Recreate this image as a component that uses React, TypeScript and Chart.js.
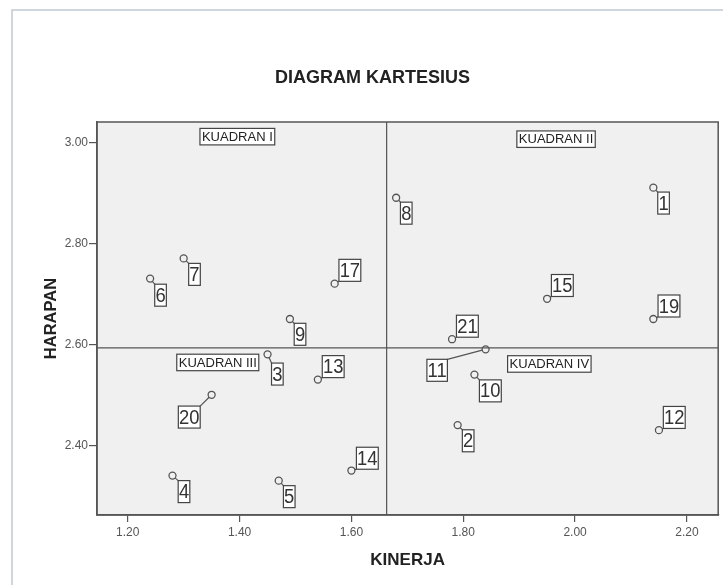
import React, { useEffect, useRef } from "react";
import { Chart, registerables } from "chart.js";

Chart.register(...registerables);

// ---- data ----
const respondentIds = ["1", "2", "3", "4", "5", "6", "7", "8", "9", "10", "11", "12", "13", "14", "15", "17", "19", "20", "21"];
const kinerja = [2.14, 1.79, 1.45, 1.28, 1.47, 1.24, 1.30, 1.68, 1.49, 1.82, 1.84, 2.15, 1.54, 1.60, 1.95, 1.57, 2.14, 1.35, 1.78];
const harapan = [2.91, 2.44, 2.58, 2.34, 2.33, 2.73, 2.77, 2.89, 2.65, 2.54, 2.59, 2.43, 2.53, 2.35, 2.69, 2.72, 2.65, 2.50, 2.61];

const meanKinerja = 1.663;
const meanHarapan = 2.593;

const xTicks = [1.2, 1.4, 1.6, 1.8, 2.0, 2.2];
const yTicks = [2.4, 2.6, 2.8, 3.0];

const quadrantNames = ["KUADRAN I", "KUADRAN II", "KUADRAN III", "KUADRAN IV"];
const quadrantX = [1.396, 1.966, 1.361, 1.954];
const quadrantY = [3.011, 3.006, 2.564, 2.561];

const chartTitle = "DIAGRAM KARTESIUS";
const xTitle = "KINERJA";
const yTitle = "HARAPAN";

// label box offsets (px, box top-left relative to point)
const labelDx = [4.4, 4.7, 4, 5.7, 4.7, 4.6, 5, 4.3, 4.3, 5, -58.7, 4.4, 4.4, 5, 4.3, 4.3, 4.7, -33.3, 4.4];
const labelDy = [4.4, 4.7, 8.7, 5, 5, 5.6, 5, 4.4, 4.3, 5.3, 10, -23.7, -24, -23.3, -24.3, -24.3, -24, 11.3, -24];

const FONT = '"Liberation Sans", Arial, sans-serif';

export default function App() {
  const ref = useRef<HTMLCanvasElement | null>(null);

  useEffect(() => {
    document.body.style.margin = "0";
    const canvas = ref.current;
    if (!canvas) return;

    const points = kinerja.map((x, i) => ({ x, y: harapan[i] }));
    const R = 3.5;

    const deco = {
      id: "deco",
      beforeDraw(chart: any) {
        const ctx = chart.ctx;
        const a = chart.chartArea;
        ctx.save();
        ctx.fillStyle = "#ffffff";
        ctx.fillRect(0, 0, chart.width, chart.height);
        // outer frame
        ctx.strokeStyle = "#bfc9d4";
        ctx.lineWidth = 1.5;
        ctx.beginPath();
        ctx.moveTo(12, chart.height);
        ctx.lineTo(12, 10);
        ctx.lineTo(chart.width, 10);
        ctx.stroke();
        // plot bg
        ctx.fillStyle = "#f0f0f0";
        ctx.fillRect(a.left, a.top, a.right - a.left, a.bottom - a.top);
        ctx.restore();
      },
      beforeDatasetsDraw(chart: any) {
        const ctx = chart.ctx;
        const a = chart.chartArea;
        const xs = chart.scales.x;
        const ys = chart.scales.y;
        ctx.save();
        ctx.strokeStyle = "#555555";
        ctx.lineWidth = 1.2;
        const vx = xs.getPixelForValue(meanKinerja);
        const hy = ys.getPixelForValue(meanHarapan);
        ctx.beginPath();
        ctx.moveTo(vx, a.top);
        ctx.lineTo(vx, a.bottom);
        ctx.moveTo(a.left, hy);
        ctx.lineTo(a.right, hy);
        ctx.stroke();
        ctx.lineWidth = 1.5;
        ctx.strokeRect(a.left, a.top, a.right - a.left, a.bottom - a.top);

        // quadrant labels
        ctx.font = `13px ${FONT}`;
        ctx.textBaseline = "middle";
        ctx.textAlign = "center";
        quadrantNames.forEach((name, i) => {
          const cx = xs.getPixelForValue(quadrantX[i]);
          const cy = ys.getPixelForValue(quadrantY[i]);
          const w = ctx.measureText(name).width + 4;
          const h = 16.5;
          ctx.fillStyle = "#ffffff";
          ctx.fillRect(cx - w / 2, cy - h / 2, w, h);
          ctx.strokeStyle = "#444444";
          ctx.lineWidth = 1.2;
          ctx.strokeRect(cx - w / 2, cy - h / 2, w, h);
          ctx.fillStyle = "#222222";
          ctx.fillText(name, cx, cy + 0.5);
        });
        ctx.restore();
      },
      afterDatasetsDraw(chart: any) {
        const ctx = chart.ctx;
        const meta = chart.getDatasetMeta(0);
        ctx.save();
        ctx.font = `20px ${FONT}`;
        const sx = 0.92;
        meta.data.forEach((el: any, i: number) => {
          const px = el.x;
          const py = el.y;
          const txt = respondentIds[i];
          const w = ctx.measureText(txt).width * sx + 1.4;
          const h = 22;
          const bx = px + labelDx[i];
          const by = py + labelDy[i];
          // leader line to nearest box corner-ish point
          const tx = Math.min(Math.max(px, bx), bx + w);
          const ty = Math.min(Math.max(py, by), by + h);
          const ddx = tx - px;
          const ddy = ty - py;
          const d = Math.hypot(ddx, ddy);
          if (d > R) {
            ctx.strokeStyle = "#555555";
            ctx.lineWidth = 1.2;
            ctx.beginPath();
            ctx.moveTo(px + (ddx / d) * R, py + (ddy / d) * R);
            ctx.lineTo(tx, ty);
            ctx.stroke();
          }
          ctx.fillStyle = "#ffffff";
          ctx.fillRect(bx, by, w, h);
          ctx.strokeStyle = "#444444";
          ctx.lineWidth = 1.2;
          ctx.strokeRect(bx, by, w, h);
          ctx.save();
          ctx.translate(bx + w / 2, by + h / 2 + 1);
          ctx.scale(sx, 1);
          ctx.fillStyle = "#333333";
          ctx.textAlign = "center";
          ctx.textBaseline = "middle";
          ctx.fillText(txt, 0, 0);
          ctx.restore();
        });
        ctx.restore();
      },
      afterDraw(chart: any) {
        const ctx = chart.ctx;
        const a = chart.chartArea;
        ctx.save();
        ctx.fillStyle = "#222222";
        ctx.textAlign = "center";
        ctx.textBaseline = "alphabetic";
        ctx.font = `bold 18px ${FONT}`;
        ctx.fillText(chartTitle, 372.5, 83.3);
        ctx.font = `bold 17px ${FONT}`;
        ctx.fillText(xTitle, (a.left + a.right) / 2, 565);
        ctx.save();
        ctx.translate(56, (a.top + a.bottom) / 2);
        ctx.rotate(-Math.PI / 2);
        ctx.font = `bold 16.5px ${FONT}`;
        ctx.fillText(yTitle, 0, 0);
        ctx.restore();
        ctx.restore();
      },
    };

    const chart = new Chart(canvas, {
      type: "scatter",
      data: {
        datasets: [
          {
            data: points,
            pointStyle: "circle",
            pointRadius: R,
            pointHoverRadius: R,
            pointBorderColor: "#555555",
            pointBackgroundColor: "rgba(0,0,0,0)",
            pointBorderWidth: 1.3,
          },
        ],
      },
      options: {
        responsive: false,
        animation: false,
        events: [],
        layout: { padding: { top: 122, right: 4.7, left: 0, bottom: 0 } },
        plugins: {
          legend: { display: false },
          title: { display: false },
          tooltip: { enabled: false },
        },
        scales: {
          x: {
            type: "linear",
            min: 1.145,
            max: 2.256,
            afterBuildTicks: (s: any) => {
              s.ticks = xTicks.map((v) => ({ value: v }));
            },
            afterFit: (s: any) => {
              s.height = 70;
            },
            grid: { display: true, drawOnChartArea: false, drawTicks: true, tickLength: 7, color: "#555555", lineWidth: 1.2 },
            border: { display: true, color: "#555555", width: 1.5 },
            ticks: {
              padding: 3,
              color: "#555555",
              font: { family: FONT, size: 12 },
              callback: (v: any) => Number(v).toFixed(2),
            },
          },
          y: {
            type: "linear",
            min: 2.262,
            max: 3.04,
            afterBuildTicks: (s: any) => {
              s.ticks = yTicks.map((v) => ({ value: v }));
            },
            afterFit: (s: any) => {
              s.width = 97;
            },
            grid: { display: true, drawOnChartArea: false, drawTicks: true, tickLength: 8, color: "#555555", lineWidth: 1.2 },
            border: { display: true, color: "#555555", width: 1.5 },
            ticks: {
              padding: 1,
              color: "#555555",
              font: { family: FONT, size: 12 },
              callback: (v: any) => Number(v).toFixed(2),
            },
          },
        },
      },
      plugins: [deco],
    });

    return () => {
      chart.destroy();
    };
  }, []);

  return (
    <div style={{ width: 723, height: 585 }}>
      <canvas ref={ref} width={723} height={585} style={{ display: "block", width: 723, height: 585 }} />
    </div>
  );
}
